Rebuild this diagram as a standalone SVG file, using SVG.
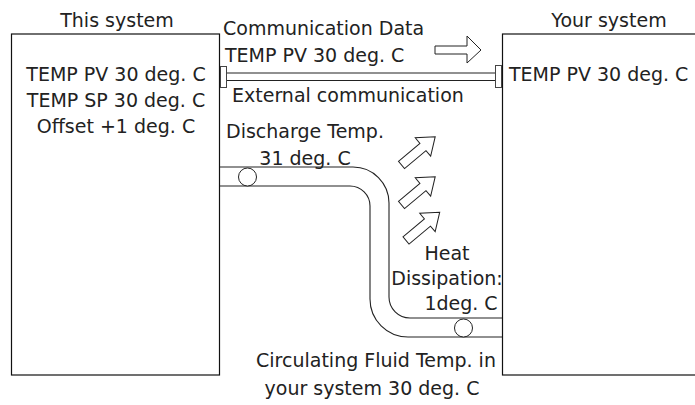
<svg xmlns="http://www.w3.org/2000/svg" width="695" height="405" viewBox="0 0 695 405">
<style>
text{font-family:"DejaVu Sans","Noto Sans",sans-serif;font-size:19px;fill:#222}
.m{text-anchor:middle}
.box{fill:#fff;stroke:#111;stroke-width:1.2}
.ln{fill:none;stroke:#222;stroke-width:1.1}
.port{fill:#fff;stroke:#444;stroke-width:1}
.arr{fill:#fff;stroke:#222;stroke-width:1}
</style>
<defs>
<polygon id="harrow" points="0,-4.7 28,-4.7 28,-12 44,0 28,12 28,4.7 0,4.7"/>
</defs>
<rect width="695" height="405" fill="#fff"/>
<g id="this-system">
<rect class="box" x="11.5" y="34" width="208" height="341"/>
<text class="m" x="117" y="27">This system</text>
<text class="m" x="116" y="81">TEMP PV 30 deg. C</text>
<text class="m" x="116" y="107">TEMP SP 30 deg. C</text>
<text class="m" x="116" y="133">Offset +1 deg. C</text>
</g>
<g id="your-system">
<rect class="box" x="502.5" y="34" width="200" height="341"/>
<text class="m" x="609" y="27">Your system</text>
<text x="509" y="81">TEMP PV 30 deg. C</text>
</g>
<g id="connectors">
<g id="communication">
<line class="ln" x1="227" y1="73" x2="495" y2="73" stroke="#555"/>
<line class="ln" x1="227" y1="80.5" x2="495" y2="80.5"/>
<rect class="port" x="220.5" y="66.5" width="6" height="21"/>
<rect class="port" x="495.5" y="65.5" width="6" height="22"/>
<polygon class="arr" points="435,46 467,46 467,36 481,50 467,63 467,54 435,54"/>
</g>
<g id="pipe">
<path class="ln" d="M220,167 H353 A36,36 0 0 1 389,203 V297 A21,21 0 0 0 410,318 H502"/>
<path class="ln" d="M220,186 H350 A20,20 0 0 1 370,206 V299 A38,38 0 0 0 408,337 H502"/>
<circle class="arr" cx="247.5" cy="177" r="9"/>
<circle class="arr" cx="463.5" cy="328" r="9"/>
</g>
<g id="heat">
<use href="#harrow" class="arr" transform="translate(401.5,165) rotate(-40)"/>
<use href="#harrow" class="arr" transform="translate(401.5,205) rotate(-40)"/>
<use href="#harrow" class="arr" transform="translate(406,240.5) rotate(-40)"/>
</g>
</g>
<g id="labels">
<text x="223" y="35">Communication Data</text>
<text x="225" y="62">TEMP PV 30 deg. C</text>
<text x="232" y="102">External communication</text>
<text class="m" x="305" y="138">Discharge Temp.</text>
<text class="m" x="305" y="165">31 deg. C</text>
<text class="m" x="447" y="260">Heat</text>
<text class="m" x="447" y="285">Dissipation:</text>
<text class="m" x="461" y="310">1deg. C</text>
<text class="m" x="376" y="367">Circulating Fluid Temp. in</text>
<text class="m" x="372" y="395">your system 30 deg. C</text>
</g>
</svg>
